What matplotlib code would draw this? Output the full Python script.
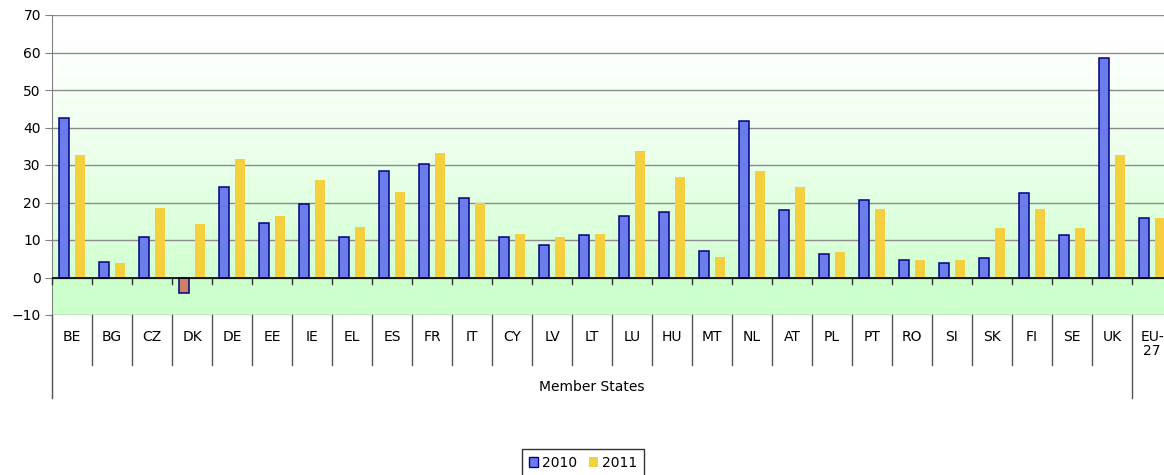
import numpy as np
import matplotlib
matplotlib.use("Agg")
import matplotlib.pyplot as plt
from matplotlib.patches import Patch

countries = ["BE", "BG", "CZ", "DK", "DE", "EE", "IE", "EL", "ES", "FR", "IT", "CY",
             "LV", "LT", "LU", "HU", "MT", "NL", "AT", "PL", "PT", "RO", "SI", "SK",
             "FI", "SE", "UK", "EU-\n27"]
v2010 = [42.6, 4.1, 10.7, -4.0, 24.1, 14.6, 19.6, 10.7, 28.3, 30.2, 21.1, 10.8,
         8.6, 11.3, 16.3, 17.6, 7.0, 41.7, 17.9, 6.4, 20.6, 4.6, 3.8, 5.1,
         22.6, 11.3, 58.6, 15.9]
v2011 = [32.7, 3.8, 18.5, 14.3, 31.5, 16.4, 25.9, 13.5, 22.8, 33.2, 19.9, 11.7,
         10.7, 11.7, 33.7, 26.7, 5.5, 28.4, 24.1, 6.8, 18.3, 4.6, 4.6, 13.1,
         18.3, 13.2, 32.8, 15.8]
group_label = "Member States"
n_group = 27

plt.rcParams["font.family"] = ["DejaVu Sans"]
W, H = 1164, 475
fig = plt.figure(figsize=(W / 100, H / 100), dpi=100)
ax = fig.add_axes([52 / W, 1 - 315 / H, 1120 / W, 300 / H])
n = len(countries)
ax.set_xlim(0, n)
ax.set_ylim(-10, 70)

# background: white at the top fading to light green at 0, solid green below
ys = np.linspace(70, -10, 400)
t = np.clip((66 - ys) / 66, 0, 1)[:, None] ** 1.2
white = np.array([1.0, 1.0, 1.0])
green0 = np.array([0.82, 1.0, 0.82])
grad = white * (1 - t) + green0 * t
grad[ys < 0] = [0.80, 1.0, 0.80]
ax.imshow(grad[:, None, :], extent=[0, n, -10, 70], aspect="auto", zorder=0,
          interpolation="bilinear")

for yv in range(-10, 71, 10):
    ax.axhline(yv, color="#8c8c8c", lw=1, zorder=1)
ax.axhline(0, color="black", lw=1.2, zorder=3)

x = np.arange(n) + 0.5
blue_cols = ["#cc8066" if v < 0 else "#6b7deb" for v in v2010]
ax.bar(x - 0.2, v2010, width=0.27, color=blue_cols, edgecolor="#000080", lw=1.1, zorder=2)
ax.bar(x + 0.2, v2011, width=0.25, color="#f4d03f", edgecolor="none", zorder=2)

for s in ["top", "right", "bottom"]:
    ax.spines[s].set_visible(False)
ax.spines["left"].set_color("#808080")
ax.spines["left"].set_bounds(-32.1, 70)
ax.set_yticks(range(-10, 71, 10))
ax.tick_params(axis="y", length=5, color="#808080", labelsize=10, pad=3)
ax.set_xticks([])

# small ticks under the zero line and the category table
for i in range(n + 1):
    ax.plot([i, i], [0, -1.6], color="#333333", lw=1, clip_on=False, zorder=3)
    bottom = -32.1 if i in (0, n_group) else -23.3
    ax.plot([i, i], [-10, bottom], color="#555555", lw=1, clip_on=False, zorder=3)
for i, c in enumerate(countries):
    ax.text(i + 0.5, -13.9, c, ha="center", va="top", fontsize=10,
            linespacing=1.0, clip_on=False)
ax.text(n_group / 2, -29.2, group_label, ha="center", va="center", fontsize=10)

handles = [Patch(facecolor="#6b7deb", edgecolor="#000080", label="2010"),
           Patch(facecolor="#f4d03f", edgecolor="none", label="2011")]
leg = fig.legend(handles=handles, loc="upper center", bbox_to_anchor=(583 / W, 1 - 449 / H),
                 ncol=2, fontsize=10, frameon=True, fancybox=False, handlelength=0.65,
                 handleheight=0.65, handletextpad=0.25, columnspacing=0.9, borderpad=0.5,
                 borderaxespad=0)
leg.get_frame().set_edgecolor("black")
leg.get_frame().set_linewidth(1)

fig.savefig("out.png", dpi=100)
